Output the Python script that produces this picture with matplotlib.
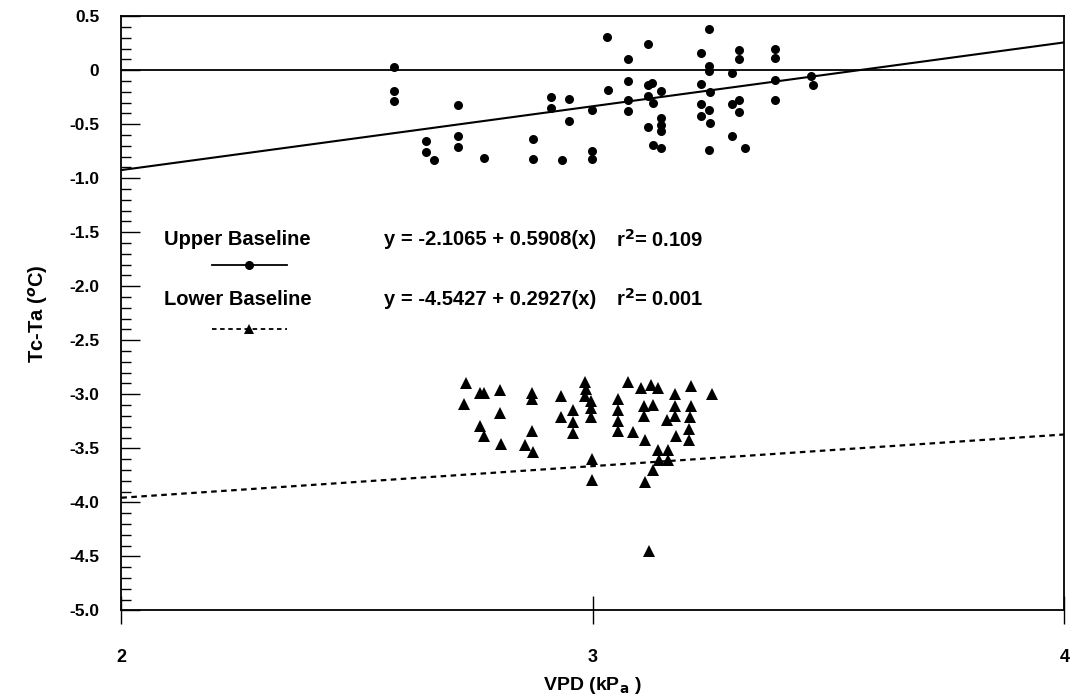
import numpy as np
import matplotlib
matplotlib.use("Agg")
import matplotlib.pyplot as plt
from matplotlib.ticker import MultipleLocator

plt.rcParams['font.family'] = ['Liberation Sans', 'DejaVu Sans']
plt.rcParams['font.weight'] = 'bold'

# upper baseline points (VPD kPa, Tc-Ta degC)
upper_x = [2.579, 2.579, 2.579, 2.647, 2.647, 2.664, 2.715, 2.715, 2.715, 2.770,
           2.874, 2.874, 2.912, 2.912, 2.935, 2.950, 2.950, 2.999, 2.999, 2.999,
           3.031, 3.033, 3.075, 3.075, 3.075, 3.075, 3.118, 3.118, 3.118, 3.126,
           3.128, 3.145, 3.145, 3.145, 3.145, 3.118, 3.128, 3.145, 3.247, 3.230,
           3.247, 3.247, 3.230, 3.249, 3.230, 3.247, 3.230, 3.249, 3.247, 3.309,
           3.309, 3.296, 3.296, 3.311, 3.311, 3.296, 3.323, 3.387, 3.387, 3.387,
           3.387, 3.463, 3.466]
upper_y = [0.03, -0.19, -0.29, -0.66, -0.76, -0.83, -0.32, -0.61, -0.71, -0.81,
           -0.64, -0.82, -0.25, -0.35, -0.83, -0.27, -0.47, -0.37, -0.75, -0.82,
           0.31, -0.18, 0.10, -0.10, -0.28, -0.38, 0.24, -0.14, -0.24, -0.12,
           -0.30, -0.19, -0.44, -0.51, -0.56, -0.53, -0.69, -0.72, 0.38, 0.16,
           0.04, -0.01, -0.13, -0.20, -0.31, -0.37, -0.42, -0.49, -0.74, 0.19,
           0.10, -0.03, -0.31, -0.28, -0.39, -0.61, -0.72, 0.20, 0.11, -0.09,
           -0.28, -0.05, -0.14]

# lower baseline points
lower_x = [2.730, 2.727, 2.761, 2.770, 2.804, 2.804, 2.761, 2.770, 2.806, 2.872,
           2.872, 2.872, 2.857, 2.874, 2.933, 2.933, 2.957, 2.957, 2.957, 2.984,
           2.986, 2.984, 2.997, 2.997, 2.997, 2.999, 2.999, 3.054, 3.054, 3.054,
           3.054, 3.075, 3.086, 3.103, 3.124, 3.139, 3.109, 3.128, 3.109, 3.111,
           3.175, 3.175, 3.175, 3.158, 3.177, 3.209, 3.209, 3.205, 3.203, 3.203,
           3.253, 3.139, 3.160, 3.141, 3.160, 3.128, 3.111, 3.120]
lower_y = [-2.90, -3.09, -2.99, -2.99, -2.96, -3.17, -3.29, -3.39, -3.46, -2.99,
           -3.04, -3.34, -3.47, -3.53, -3.02, -3.21, -3.15, -3.26, -3.36, -2.89,
           -2.95, -3.02, -3.06, -3.13, -3.21, -3.60, -3.79, -3.04, -3.15, -3.25,
           -3.34, -2.89, -3.35, -2.94, -2.91, -2.94, -3.11, -3.10, -3.20, -3.42,
           -3.00, -3.11, -3.20, -3.24, -3.39, -2.92, -3.11, -3.21, -3.32, -3.42,
           -3.00, -3.52, -3.52, -3.61, -3.61, -3.70, -3.81, -4.45]

# regression lines
upper_a, upper_b = -2.1065, 0.5908
lower_a, lower_b = -4.5427, 0.2927

yticks = [0.5, 0, -0.5, -1.0, -1.5, -2.0, -2.5, -3.0, -3.5, -4.0, -4.5, -5.0]
ytick_labels = ["0.5", "0", "-0.5", "-1.0", "-1.5", "-2.0", "-2.5", "-3.0",
                "-3.5", "-4.0", "-4.5", "-5.0"]
xticks = [2, 3, 4]
xtick_labels = ["2", "3", "4"]

fig = plt.figure(figsize=(10.74, 7.0), dpi=100)
ax = fig.add_axes([0.113, 0.128, 0.878, 0.849])

xx = np.array([2.0, 4.0])
ax.axhline(0, color="black", lw=1.3)
ax.plot(xx, upper_a + upper_b * xx, color="black", lw=1.5)
ax.plot(xx, lower_a + lower_b * xx, color="black", lw=1.6, linestyle=(0, (2.5, 2)))

ax.plot(upper_x, upper_y, "o", color="black", ms=6.5, mew=0)
ax.plot(lower_x, lower_y, "^", color="black", ms=8, mew=0)

ax.set_xlim(2, 4)
ax.set_ylim(-5.0, 0.5)
ax.set_xticks(xticks)
ax.set_xticklabels(xtick_labels)
ax.set_yticks(yticks)
ax.set_yticklabels(ytick_labels)
ax.yaxis.set_minor_locator(MultipleLocator(0.1))
ax.tick_params(axis="y", which="major", direction="in", length=14, width=1,
               labelsize=12.5, pad=16)
ax.tick_params(axis="y", which="minor", direction="in", length=7, width=1)
ax.tick_params(axis="x", which="major", direction="inout", length=20, width=1,
               labelsize=13, pad=18)
for lab in ax.get_xticklabels() + ax.get_yticklabels():
    lab.set_fontweight("bold")
for sp in ax.spines.values():
    sp.set_linewidth(1.3)

ax.set_ylabel("Tc-Ta ($^o$C)", fontsize=14.5, fontweight="bold", labelpad=14)
ax.set_xlabel("VPD (kP$_\\mathbf{a}$ )", fontsize=14, fontweight="bold", labelpad=6)

# legend drawn as text like the original
fs = 14.5
ax.text(2.091, -1.57, "Upper Baseline", fontsize=fs, fontweight="bold", va="center")
ax.text(2.558, -1.57, "y = -2.1065 + 0.5908(x)", fontsize=fs, fontweight="bold", va="center")
ax.text(3.05, -1.57, "r$^\\mathbf{2}$= 0.109", fontsize=fs, fontweight="bold", va="center")
ax.plot([2.193, 2.352], [-1.80, -1.80], color="black", lw=1.3)
ax.plot([2.271], [-1.80], "o", color="black", ms=6.5, mew=0)

ax.text(2.091, -2.12, "Lower Baseline", fontsize=fs, fontweight="bold", va="center")
ax.text(2.558, -2.12, "y = -4.5427 + 0.2927(x)", fontsize=fs, fontweight="bold", va="center")
ax.text(3.05, -2.12, "r$^\\mathbf{2}$= 0.001", fontsize=fs, fontweight="bold", va="center")
ax.plot([2.193, 2.352], [-2.40, -2.40], color="black", lw=1.3, linestyle=(0, (2.5, 2)))
ax.plot([2.271], [-2.40], "^", color="black", ms=7, mew=0)

fig.savefig("out.png", dpi=100)
